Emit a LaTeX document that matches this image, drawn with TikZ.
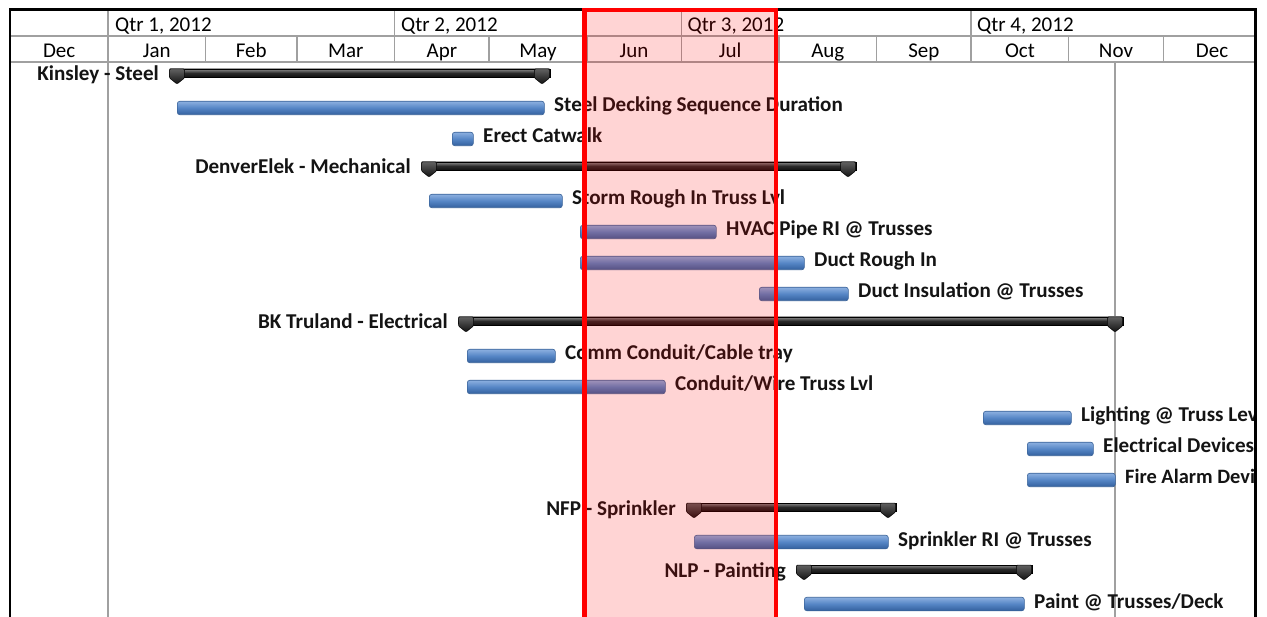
\documentclass[tikz,border=0pt]{standalone}
\usepackage{fontspec}
\setmainfont{Carlito}
\definecolor{gridgray}{HTML}{A0A0A0}
\definecolor{barTop}{HTML}{8CB0E0}
\definecolor{barMid}{HTML}{5585C5}
\definecolor{barBot}{HTML}{33609E}
\definecolor{barEdge}{HTML}{3A6399}
\definecolor{sumTop}{HTML}{8A8A8A}
\definecolor{sumMid}{HTML}{2A2A2A}
\definecolor{sumBot}{HTML}{111111}
\definecolor{hiRed}{HTML}{FF0000}
\tikzset{
  gridline/.style={draw=gridgray, line width=1.4pt},
  hdrtext/.style={font=\fontsize{21}{25}\selectfont, inner sep=0pt, text=black},
  lbl/.style={font=\bfseries\fontsize{21.1}{25}\selectfont, inner sep=0pt, text=black!92},
  taskbar/.style={rectangle, rounded corners=2.5pt, minimum height=13.5pt, inner sep=0pt, draw=barEdge, line width=0.6pt, top color=barTop, bottom color=barBot, middle color=barMid},
  sumbar/.style={rectangle, minimum height=8pt, inner sep=0pt, draw=black, line width=0.4pt, top color=sumTop, bottom color=sumBot, middle color=sumMid},
  summark/.style={draw=black, line width=0.5pt, rounded corners=1pt, top color=sumTop!70!black, bottom color=sumBot},
}
\newcommand\taskrow[5]{%
  \pgfmathsetmacro\barw{#3-#2}%
  \node[taskbar, minimum width=\barw pt, anchor=west] (#1) at (#2,#4+3) {};
  \node[lbl, anchor=base west] (#1l) at (#3+10,#4+7) {#5};
}
\newcommand\sumrow[5]{%
  \pgfmathsetmacro\barw{#3-#2+15}%
  \node[sumbar, minimum width=\barw pt, anchor=west] (#1) at (#2-7.5,#4-1) {};
  \shadedraw[summark] (#2-7.5,#4-5) -- ++(15,0) -- ++(0,9) -- ++(-7.5,6) -- ++(-7.5,-6) -- cycle;
  \shadedraw[summark] (#3-7.5,#4-5) -- ++(15,0) -- ++(0,9) -- ++(-7.5,6) -- ++(-7.5,-6) -- cycle;
  \node[lbl, anchor=base east] (#1l) at (#2-18,#4+7) {#5};
}
\begin{document}
\begin{tikzpicture}[x=1pt,y=-1pt]
\useasboundingbox (0,0) rectangle (1267,617);
\fill[white] (0,0) rectangle (1267,617);
\begin{scope}
\clip (10,9) rectangle (1256,617);
% header grid
\draw[gridline] (10,36) -- (1256,36);
\draw[gridline] (10,62) -- (1256,62);
\foreach \x in {205.65,297,489.15,586.8,778.95,876.6,1068.75,1163.25}
  \draw[gridline] (\x,36) -- (\x,62);
\foreach \x in {394.65,681.3,971.1}
  \draw[gridline] (\x,9) -- (\x,62);
\draw[gridline] (108,9) -- (108,617);
\draw[gridline] (1115,62) -- (1115,617);
% quarter labels
\node[hdrtext, anchor=base west] (q1) at (115,31.5) {Qtr 1, 2012};
\node[hdrtext, anchor=base west] (q2) at (401,31.5) {Qtr 2, 2012};
\node[hdrtext, anchor=base west] (q3) at (687.5,31.5) {Qtr 3, 2012};
\node[hdrtext, anchor=base west] (q4) at (977,31.5) {Qtr 4, 2012};
% month labels
\foreach \x/\m [count=\i] in {59.2/Dec,156.8/Jan,251.3/Feb,345.8/Mar,441.9/Apr,538/May,634/Jun,730.1/Jul,827.8/Aug,923.9/Sep,1019.9/Oct,1116/Nov,1212/Dec}
  \node[hdrtext, anchor=base] (m\i) at (\x,57.5) {\m};
% rows
\sumrow{s1}{177}{542}{74}{Kinsley - Steel}
\taskrow{t2}{177}{544}{105}{Steel Decking Sequence Duration}
\taskrow{t3}{452}{473}{136}{Erect Catwalk}
\sumrow{s4}{429}{848}{167}{DenverElek - Mechanical}
\taskrow{t5}{429}{562}{198}{Storm Rough In Truss Lvl}
\taskrow{t6}{580}{716}{229}{HVAC Pipe RI @ Trusses}
\taskrow{t7}{580}{804}{260}{Duct Rough In}
\taskrow{t8}{759}{848}{291}{Duct Insulation @ Trusses}
\sumrow{s9}{466}{1115}{322}{BK Truland - Electrical}
\taskrow{t10}{467}{555}{353}{Comm Conduit/Cable tray}
\taskrow{t11}{467}{665}{384}{Conduit/Wire Truss Lvl}
\taskrow{t12}{983}{1071}{415}{Lighting @ Truss Lev}
\taskrow{t13}{1027}{1093}{446}{Electrical Devices}
\taskrow{t14}{1027}{1115}{477}{\fontsize{20.4}{25}\selectfont Fire Alarm Devi}
\sumrow{s15}{694}{888}{508}{NFP - Sprinkler}
\taskrow{t16}{694}{888}{539}{Sprinkler RI @ Trusses}
\sumrow{s17}{804}{1024}{570}{NLP - Painting}
\taskrow{t18}{804}{1024}{601}{Paint @ Trusses/Deck}
\end{scope}
% frame
\draw[black, line width=2.5pt] (9.8,630) -- (9.8,9.5) -- (1255.5,9.5) -- (1255.5,630);
% highlight
\fill[hiRed, fill opacity=0.17] (584.5,9.8) rectangle (776,630);
\draw[hiRed, line width=4.5pt] (584.5,630) -- (584.5,9.8) -- (776,9.8) -- (776,630);
\end{tikzpicture}
\end{document}
